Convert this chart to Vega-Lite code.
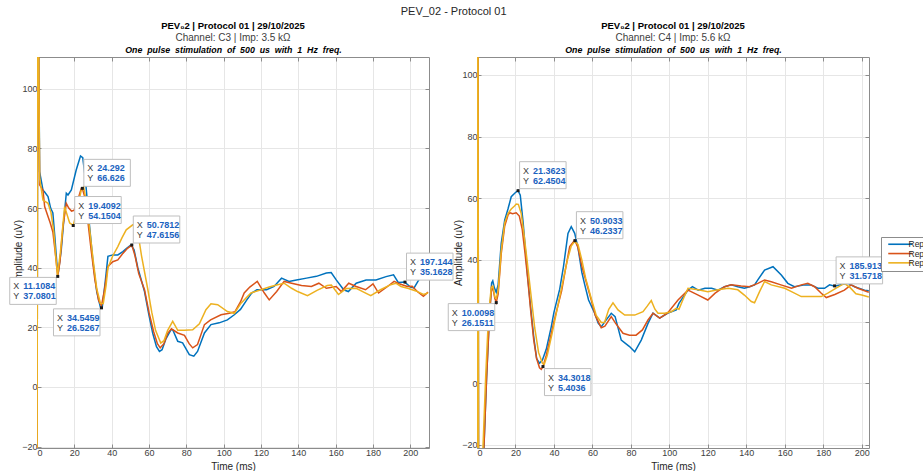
{
  "$schema": "https://vega.github.io/schema/vega-lite/v6.json",
  "padding": {"left": 7, "top": 6, "right": 0, "bottom": 0},
  "background": "white",
  "title": {"text": "PEV_02 - Protocol 01", "frame": "bounds", "anchor": "middle", "dx": -18, "fontSize": 11, "fontWeight": "normal", "color": "#262626", "offset": 4},
  "bounds": "flush",
  "spacing": 48,
  "resolve": {"legend": {"color": "independent"}},
  "datasets": {
    "tips": [
      {"ch": "C3", "t": 11.1084, "v": 37.0801},
      {"ch": "C3", "t": 24.292, "v": 66.626},
      {"ch": "C3", "t": 19.4092, "v": 54.1504},
      {"ch": "C3", "t": 34.5459, "v": 26.5267},
      {"ch": "C3", "t": 50.7812, "v": 47.6156},
      {"ch": "C3", "t": 197.144, "v": 35.1628},
      {"ch": "C4", "t": 10.0098, "v": 26.1511},
      {"ch": "C4", "t": 21.3623, "v": 62.4504},
      {"ch": "C4", "t": 50.9033, "v": 46.2337},
      {"ch": "C4", "t": 34.3018, "v": 5.4036},
      {"ch": "C4", "t": 185.913, "v": 31.5718}
    ],
    "c3": [
      {"r":"Rep 1","t":0,"v":-60},{"r":"Rep 1","t":0.4,"v":160},{"r":"Rep 1","t":1.4,"v":72.2},{"r":"Rep 1","t":3.2,"v":66},{"r":"Rep 1","t":4,"v":65.5},{"r":"Rep 1","t":5.9,"v":63.9},{"r":"Rep 1","t":7.3,"v":60},{"r":"Rep 1","t":8.5,"v":58.4},{"r":"Rep 1","t":9.6,"v":50},{"r":"Rep 1","t":10.9,"v":39.3},{"r":"Rep 1","t":11.5,"v":38.8},{"r":"Rep 1","t":13,"v":46},{"r":"Rep 1","t":14.5,"v":57},{"r":"Rep 1","t":15.7,"v":65},{"r":"Rep 1","t":16.6,"v":64.4},{"r":"Rep 1","t":18.4,"v":66.1},{"r":"Rep 1","t":21,"v":72.8},{"r":"Rep 1","t":23.3,"v":77.5},{"r":"Rep 1","t":24.5,"v":76.9},{"r":"Rep 1","t":25.8,"v":70.5},{"r":"Rep 1","t":28,"v":55},{"r":"Rep 1","t":30,"v":42},{"r":"Rep 1","t":32,"v":32},{"r":"Rep 1","t":34,"v":26.6},{"r":"Rep 1","t":35,"v":27},{"r":"Rep 1","t":36.5,"v":35},{"r":"Rep 1","t":38,"v":43.8},{"r":"Rep 1","t":40.6,"v":44.3},{"r":"Rep 1","t":43.3,"v":44.3},{"r":"Rep 1","t":46,"v":45.4},{"r":"Rep 1","t":48,"v":46.5},{"r":"Rep 1","t":50.4,"v":47.7},{"r":"Rep 1","t":52,"v":46},{"r":"Rep 1","t":54,"v":40},{"r":"Rep 1","t":57.6,"v":32},{"r":"Rep 1","t":60,"v":24},{"r":"Rep 1","t":62,"v":18},{"r":"Rep 1","t":64,"v":13.5},{"r":"Rep 1","t":65.6,"v":11.9},{"r":"Rep 1","t":67,"v":12.5},{"r":"Rep 1","t":69,"v":16},{"r":"Rep 1","t":71.8,"v":19.2},{"r":"Rep 1","t":72.7,"v":19.2},{"r":"Rep 1","t":75.4,"v":15.3},{"r":"Rep 1","t":78,"v":14.8},{"r":"Rep 1","t":81.6,"v":10.8},{"r":"Rep 1","t":84,"v":10.3},{"r":"Rep 1","t":86,"v":11.9},{"r":"Rep 1","t":89.7,"v":18.1},{"r":"Rep 1","t":93.2,"v":20.9},{"r":"Rep 1","t":97.6,"v":21.5},{"r":"Rep 1","t":102,"v":22.5},{"r":"Rep 1","t":105.7,"v":24.2},{"r":"Rep 1","t":109,"v":26},{"r":"Rep 1","t":112.4,"v":29.2},{"r":"Rep 1","t":115,"v":31.5},{"r":"Rep 1","t":117.8,"v":32.6},{"r":"Rep 1","t":123,"v":32.6},{"r":"Rep 1","t":127,"v":33.7},{"r":"Rep 1","t":131,"v":36.5},{"r":"Rep 1","t":135,"v":35.4},{"r":"Rep 1","t":139,"v":35.9},{"r":"Rep 1","t":144.4,"v":36.5},{"r":"Rep 1","t":149.7,"v":37.1},{"r":"Rep 1","t":155,"v":38.2},{"r":"Rep 1","t":157.6,"v":38.4},{"r":"Rep 1","t":160.3,"v":35.9},{"r":"Rep 1","t":164.3,"v":32.6},{"r":"Rep 1","t":166.8,"v":32},{"r":"Rep 1","t":171,"v":34.8},{"r":"Rep 1","t":176.3,"v":35.9},{"r":"Rep 1","t":181.6,"v":35.9},{"r":"Rep 1","t":187,"v":37},{"r":"Rep 1","t":191,"v":37.6},{"r":"Rep 1","t":193.6,"v":35},{"r":"Rep 1","t":197,"v":35.2},{"r":"Rep 1","t":200,"v":33.5},{"r":"Rep 1","t":202,"v":33.2},{"r":"Rep 1","t":204.6,"v":36},{"r":"Rep 1","t":207,"v":39.5},{"r":"Rep 1","t":209.6,"v":41},
      {"r":"Rep 2","t":0,"v":-60},{"r":"Rep 2","t":0.4,"v":160},{"r":"Rep 2","t":1.4,"v":67.8},{"r":"Rep 2","t":3.2,"v":66},{"r":"Rep 2","t":4.1,"v":60.5},{"r":"Rep 2","t":5.9,"v":57.2},{"r":"Rep 2","t":7.1,"v":55},{"r":"Rep 2","t":8.5,"v":52},{"r":"Rep 2","t":9.8,"v":45},{"r":"Rep 2","t":11.1,"v":37.1},{"r":"Rep 2","t":12.3,"v":42},{"r":"Rep 2","t":13.9,"v":53.8},{"r":"Rep 2","t":15.7,"v":61.6},{"r":"Rep 2","t":17,"v":60},{"r":"Rep 2","t":18.5,"v":59},{"r":"Rep 2","t":19.8,"v":59.2},{"r":"Rep 2","t":21.5,"v":62},{"r":"Rep 2","t":23.7,"v":66.6},{"r":"Rep 2","t":24.3,"v":66.6},{"r":"Rep 2","t":25.5,"v":64},{"r":"Rep 2","t":27,"v":57},{"r":"Rep 2","t":29,"v":46},{"r":"Rep 2","t":31,"v":36},{"r":"Rep 2","t":33,"v":29},{"r":"Rep 2","t":34.5,"v":27.2},{"r":"Rep 2","t":36,"v":32},{"r":"Rep 2","t":38,"v":40.4},{"r":"Rep 2","t":40.6,"v":42},{"r":"Rep 2","t":43.3,"v":42.6},{"r":"Rep 2","t":46,"v":44.8},{"r":"Rep 2","t":48.5,"v":46.5},{"r":"Rep 2","t":50.8,"v":47.6},{"r":"Rep 2","t":52.5,"v":44},{"r":"Rep 2","t":54.5,"v":38},{"r":"Rep 2","t":57.6,"v":32.6},{"r":"Rep 2","t":60,"v":25},{"r":"Rep 2","t":62.5,"v":18.5},{"r":"Rep 2","t":64.5,"v":14.5},{"r":"Rep 2","t":66,"v":13.1},{"r":"Rep 2","t":68,"v":14.5},{"r":"Rep 2","t":70,"v":18},{"r":"Rep 2","t":72,"v":19.5},{"r":"Rep 2","t":75.4,"v":18.1},{"r":"Rep 2","t":79,"v":17.3},{"r":"Rep 2","t":81.5,"v":14.5},{"r":"Rep 2","t":83.4,"v":13.1},{"r":"Rep 2","t":86,"v":14.2},{"r":"Rep 2","t":89.7,"v":20.9},{"r":"Rep 2","t":93,"v":22.5},{"r":"Rep 2","t":98.6,"v":24.2},{"r":"Rep 2","t":103,"v":24.7},{"r":"Rep 2","t":106,"v":25.2},{"r":"Rep 2","t":109,"v":28.5},{"r":"Rep 2","t":111,"v":31.5},{"r":"Rep 2","t":114,"v":33.5},{"r":"Rep 2","t":118,"v":35.4},{"r":"Rep 2","t":121.8,"v":31.5},{"r":"Rep 2","t":124.4,"v":29.2},{"r":"Rep 2","t":128.4,"v":32},{"r":"Rep 2","t":132.4,"v":35.4},{"r":"Rep 2","t":136.4,"v":34.8},{"r":"Rep 2","t":141.7,"v":34},{"r":"Rep 2","t":147,"v":33.7},{"r":"Rep 2","t":151,"v":34.8},{"r":"Rep 2","t":155,"v":33.1},{"r":"Rep 2","t":160.3,"v":33.7},{"r":"Rep 2","t":163,"v":32},{"r":"Rep 2","t":167,"v":34.8},{"r":"Rep 2","t":171,"v":33.7},{"r":"Rep 2","t":176,"v":32.6},{"r":"Rep 2","t":180,"v":34.6},{"r":"Rep 2","t":183,"v":31.5},{"r":"Rep 2","t":187.8,"v":33.7},{"r":"Rep 2","t":191.3,"v":35.4},{"r":"Rep 2","t":194,"v":34.6},{"r":"Rep 2","t":198.4,"v":33.7},{"r":"Rep 2","t":201,"v":33.8},{"r":"Rep 2","t":203.7,"v":32},{"r":"Rep 2","t":207,"v":30.4},{"r":"Rep 2","t":209.5,"v":31.8},
      {"r":"Rep 3","t":0,"v":-60},{"r":"Rep 3","t":0.4,"v":160},{"r":"Rep 3","t":1.4,"v":70},{"r":"Rep 3","t":3.2,"v":62.7},{"r":"Rep 3","t":5.9,"v":61.6},{"r":"Rep 3","t":7.5,"v":58.5},{"r":"Rep 3","t":9,"v":52},{"r":"Rep 3","t":10,"v":44},{"r":"Rep 3","t":11,"v":37.5},{"r":"Rep 3","t":12.5,"v":45},{"r":"Rep 3","t":14.8,"v":60.5},{"r":"Rep 3","t":16,"v":58},{"r":"Rep 3","t":17.5,"v":55},{"r":"Rep 3","t":19.4,"v":54.2},{"r":"Rep 3","t":21,"v":58},{"r":"Rep 3","t":23.7,"v":66},{"r":"Rep 3","t":25,"v":67},{"r":"Rep 3","t":26.5,"v":62},{"r":"Rep 3","t":28,"v":54},{"r":"Rep 3","t":30,"v":43},{"r":"Rep 3","t":32,"v":33},{"r":"Rep 3","t":34,"v":28},{"r":"Rep 3","t":35.5,"v":28},{"r":"Rep 3","t":37,"v":34},{"r":"Rep 3","t":38,"v":39.9},{"r":"Rep 3","t":40.6,"v":44},{"r":"Rep 3","t":43.3,"v":47.1},{"r":"Rep 3","t":45.5,"v":50},{"r":"Rep 3","t":47.8,"v":52.7},{"r":"Rep 3","t":51.3,"v":54.4},{"r":"Rep 3","t":52.5,"v":54.5},{"r":"Rep 3","t":54,"v":52},{"r":"Rep 3","t":56,"v":44},{"r":"Rep 3","t":59.4,"v":32.6},{"r":"Rep 3","t":61.5,"v":25},{"r":"Rep 3","t":63.5,"v":19},{"r":"Rep 3","t":66.3,"v":14.7},{"r":"Rep 3","t":68,"v":15.5},{"r":"Rep 3","t":70,"v":19},{"r":"Rep 3","t":72.7,"v":22},{"r":"Rep 3","t":75.4,"v":19},{"r":"Rep 3","t":79,"v":19},{"r":"Rep 3","t":83.4,"v":19.2},{"r":"Rep 3","t":87,"v":21.2},{"r":"Rep 3","t":90.5,"v":25.9},{"r":"Rep 3","t":93.2,"v":27.9},{"r":"Rep 3","t":96.8,"v":27.6},{"r":"Rep 3","t":102,"v":25.3},{"r":"Rep 3","t":105.7,"v":24.7},{"r":"Rep 3","t":109.3,"v":28.1},{"r":"Rep 3","t":114.6,"v":31.5},{"r":"Rep 3","t":120,"v":32.6},{"r":"Rep 3","t":124.4,"v":33.5},{"r":"Rep 3","t":128.9,"v":34.3},{"r":"Rep 3","t":132.4,"v":34.8},{"r":"Rep 3","t":136.4,"v":33.1},{"r":"Rep 3","t":139.6,"v":32},{"r":"Rep 3","t":144.9,"v":30.6},{"r":"Rep 3","t":150,"v":32.4},{"r":"Rep 3","t":155.5,"v":34},{"r":"Rep 3","t":157.7,"v":34.2},{"r":"Rep 3","t":161.5,"v":31},{"r":"Rep 3","t":165.6,"v":33},{"r":"Rep 3","t":171,"v":33.1},{"r":"Rep 3","t":175,"v":31.8},{"r":"Rep 3","t":178.8,"v":30.6},{"r":"Rep 3","t":184,"v":32.6},{"r":"Rep 3","t":189.5,"v":34.3},{"r":"Rep 3","t":192.2,"v":34.8},{"r":"Rep 3","t":195,"v":33.7},{"r":"Rep 3","t":199,"v":33},{"r":"Rep 3","t":203,"v":32.2},{"r":"Rep 3","t":207,"v":31},{"r":"Rep 3","t":209.5,"v":31.5}
    ],
    "c4": [
      {"r":"Rep 1","t":0,"v":-100},{"r":"Rep 1","t":0.4,"v":200},{"r":"Rep 1","t":0.9,"v":-100},{"r":"Rep 1","t":2.2,"v":-45},{"r":"Rep 1","t":3.6,"v":-21},{"r":"Rep 1","t":5,"v":2},{"r":"Rep 1","t":6.5,"v":22},{"r":"Rep 1","t":7.6,"v":32.5},{"r":"Rep 1","t":8.2,"v":33.2},{"r":"Rep 1","t":9,"v":31},{"r":"Rep 1","t":10,"v":29.5},{"r":"Rep 1","t":11,"v":32},{"r":"Rep 1","t":12.6,"v":45.4},{"r":"Rep 1","t":14.4,"v":52.9},{"r":"Rep 1","t":16.1,"v":56.5},{"r":"Rep 1","t":17.8,"v":60.5},{"r":"Rep 1","t":19.6,"v":61.6},{"r":"Rep 1","t":21.3,"v":62.5},{"r":"Rep 1","t":22.5,"v":61},{"r":"Rep 1","t":24,"v":52},{"r":"Rep 1","t":25.6,"v":40},{"r":"Rep 1","t":26.5,"v":33.5},{"r":"Rep 1","t":28,"v":24},{"r":"Rep 1","t":29.5,"v":15},{"r":"Rep 1","t":31,"v":8},{"r":"Rep 1","t":32.5,"v":6.5},{"r":"Rep 1","t":34,"v":7.5},{"r":"Rep 1","t":36,"v":11},{"r":"Rep 1","t":38.6,"v":18.3},{"r":"Rep 1","t":40,"v":23},{"r":"Rep 1","t":42,"v":28},{"r":"Rep 1","t":43,"v":30.5},{"r":"Rep 1","t":45,"v":38},{"r":"Rep 1","t":47.3,"v":48.6},{"r":"Rep 1","t":49,"v":50.8},{"r":"Rep 1","t":50.8,"v":48.6},{"r":"Rep 1","t":52.5,"v":44},{"r":"Rep 1","t":54.5,"v":36},{"r":"Rep 1","t":56,"v":32},{"r":"Rep 1","t":58,"v":27},{"r":"Rep 1","t":61.2,"v":22.7},{"r":"Rep 1","t":63,"v":19.5},{"r":"Rep 1","t":64.6,"v":18.3},{"r":"Rep 1","t":66.5,"v":20},{"r":"Rep 1","t":69.8,"v":22.7},{"r":"Rep 1","t":71.8,"v":21.6},{"r":"Rep 1","t":75,"v":14},{"r":"Rep 1","t":79.3,"v":11.9},{"r":"Rep 1","t":82,"v":10.2},{"r":"Rep 1","t":85.4,"v":14},{"r":"Rep 1","t":88.9,"v":19.4},{"r":"Rep 1","t":91.5,"v":22.7},{"r":"Rep 1","t":95,"v":21.1},{"r":"Rep 1","t":99,"v":22.7},{"r":"Rep 1","t":103.6,"v":23.8},{"r":"Rep 1","t":105,"v":25.9},{"r":"Rep 1","t":109.7,"v":30.2},{"r":"Rep 1","t":112,"v":31.3},{"r":"Rep 1","t":115,"v":30.2},{"r":"Rep 1","t":118.5,"v":30.8},{"r":"Rep 1","t":122,"v":30.8},{"r":"Rep 1","t":125.3,"v":30.2},{"r":"Rep 1","t":128.7,"v":31.3},{"r":"Rep 1","t":132.2,"v":31.9},{"r":"Rep 1","t":135.6,"v":31.3},{"r":"Rep 1","t":139,"v":30.8},{"r":"Rep 1","t":141.7,"v":31.3},{"r":"Rep 1","t":144.3,"v":31.9},{"r":"Rep 1","t":146,"v":33.5},{"r":"Rep 1","t":149.5,"v":36.7},{"r":"Rep 1","t":153.9,"v":37.8},{"r":"Rep 1","t":158.2,"v":35.1},{"r":"Rep 1","t":161.6,"v":32.4},{"r":"Rep 1","t":165,"v":31.3},{"r":"Rep 1","t":170.3,"v":31.9},{"r":"Rep 1","t":173.7,"v":31.9},{"r":"Rep 1","t":177.2,"v":30.8},{"r":"Rep 1","t":180.7,"v":30.8},{"r":"Rep 1","t":183.3,"v":31.9},{"r":"Rep 1","t":186,"v":31.5},{"r":"Rep 1","t":190.6,"v":32.2},{"r":"Rep 1","t":193,"v":32.4},{"r":"Rep 1","t":196.3,"v":31.3},{"r":"Rep 1","t":201.5,"v":30.2},{"r":"Rep 1","t":203.7,"v":30},
      {"r":"Rep 2","t":0,"v":-100},{"r":"Rep 2","t":0.4,"v":200},{"r":"Rep 2","t":0.9,"v":-100},{"r":"Rep 2","t":2.2,"v":-45},{"r":"Rep 2","t":3.6,"v":-21},{"r":"Rep 2","t":5,"v":2},{"r":"Rep 2","t":6.5,"v":22},{"r":"Rep 2","t":7.6,"v":31},{"r":"Rep 2","t":8.5,"v":30},{"r":"Rep 2","t":9.3,"v":27.5},{"r":"Rep 2","t":10,"v":26.2},{"r":"Rep 2","t":11,"v":29},{"r":"Rep 2","t":12.6,"v":42},{"r":"Rep 2","t":14.4,"v":51},{"r":"Rep 2","t":16.1,"v":54.5},{"r":"Rep 2","t":17,"v":55.3},{"r":"Rep 2","t":18.5,"v":55},{"r":"Rep 2","t":20.4,"v":55.3},{"r":"Rep 2","t":22,"v":54.2},{"r":"Rep 2","t":23.5,"v":50},{"r":"Rep 2","t":25,"v":42},{"r":"Rep 2","t":26.5,"v":33},{"r":"Rep 2","t":28,"v":23},{"r":"Rep 2","t":29.5,"v":14},{"r":"Rep 2","t":31,"v":8},{"r":"Rep 2","t":32.5,"v":5},{"r":"Rep 2","t":33.4,"v":4.5},{"r":"Rep 2","t":34.3,"v":5.4},{"r":"Rep 2","t":36,"v":9},{"r":"Rep 2","t":38.6,"v":16},{"r":"Rep 2","t":40,"v":20},{"r":"Rep 2","t":42,"v":25},{"r":"Rep 2","t":44,"v":30},{"r":"Rep 2","t":46,"v":37},{"r":"Rep 2","t":48.2,"v":44.3},{"r":"Rep 2","t":50.8,"v":46.4},{"r":"Rep 2","t":52.5,"v":44},{"r":"Rep 2","t":54.5,"v":38},{"r":"Rep 2","t":56,"v":34.6},{"r":"Rep 2","t":59.4,"v":27},{"r":"Rep 2","t":61.5,"v":22},{"r":"Rep 2","t":64.6,"v":18},{"r":"Rep 2","t":66.5,"v":18.5},{"r":"Rep 2","t":69.8,"v":21.6},{"r":"Rep 2","t":72,"v":19.5},{"r":"Rep 2","t":75.9,"v":16.2},{"r":"Rep 2","t":79.3,"v":15.6},{"r":"Rep 2","t":82.7,"v":15.6},{"r":"Rep 2","t":86,"v":17.3},{"r":"Rep 2","t":88.9,"v":20.5},{"r":"Rep 2","t":91.5,"v":22.7},{"r":"Rep 2","t":95,"v":21.1},{"r":"Rep 2","t":99,"v":22.7},{"r":"Rep 2","t":104.5,"v":27},{"r":"Rep 2","t":109.7,"v":30.2},{"r":"Rep 2","t":115,"v":28.6},{"r":"Rep 2","t":120,"v":27},{"r":"Rep 2","t":123.8,"v":29.2},{"r":"Rep 2","t":128.7,"v":31.3},{"r":"Rep 2","t":132.2,"v":31.9},{"r":"Rep 2","t":137.3,"v":31.5},{"r":"Rep 2","t":141.7,"v":31.3},{"r":"Rep 2","t":146,"v":32.4},{"r":"Rep 2","t":149.5,"v":33.5},{"r":"Rep 2","t":153,"v":32.9},{"r":"Rep 2","t":158,"v":31.9},{"r":"Rep 2","t":163.5,"v":30.8},{"r":"Rep 2","t":168.6,"v":31.9},{"r":"Rep 2","t":172,"v":32.4},{"r":"Rep 2","t":175.5,"v":31.3},{"r":"Rep 2","t":179,"v":29.2},{"r":"Rep 2","t":181.6,"v":27.8},{"r":"Rep 2","t":186,"v":28.8},{"r":"Rep 2","t":191,"v":30.2},{"r":"Rep 2","t":194.5,"v":31.9},{"r":"Rep 2","t":198,"v":30.8},{"r":"Rep 2","t":201.5,"v":30},{"r":"Rep 2","t":203.7,"v":29.5},
      {"r":"Rep 3","t":0,"v":-100},{"r":"Rep 3","t":0.4,"v":200},{"r":"Rep 3","t":0.9,"v":-100},{"r":"Rep 3","t":2,"v":-45},{"r":"Rep 3","t":3.1,"v":-21},{"r":"Rep 3","t":4.5,"v":2},{"r":"Rep 3","t":6,"v":22},{"r":"Rep 3","t":7.4,"v":31},{"r":"Rep 3","t":8.3,"v":31.5},{"r":"Rep 3","t":9.3,"v":28},{"r":"Rep 3","t":10,"v":27.5},{"r":"Rep 3","t":11,"v":30},{"r":"Rep 3","t":12.6,"v":43},{"r":"Rep 3","t":14.4,"v":52},{"r":"Rep 3","t":16.1,"v":55},{"r":"Rep 3","t":17.8,"v":56.5},{"r":"Rep 3","t":19.5,"v":57.5},{"r":"Rep 3","t":20.4,"v":58.1},{"r":"Rep 3","t":21.5,"v":58},{"r":"Rep 3","t":23,"v":55},{"r":"Rep 3","t":24.5,"v":48},{"r":"Rep 3","t":26,"v":40},{"r":"Rep 3","t":28,"v":29},{"r":"Rep 3","t":30,"v":18},{"r":"Rep 3","t":32,"v":10},{"r":"Rep 3","t":34,"v":6.5},{"r":"Rep 3","t":35,"v":6.2},{"r":"Rep 3","t":36.5,"v":9},{"r":"Rep 3","t":39,"v":16},{"r":"Rep 3","t":41,"v":22},{"r":"Rep 3","t":43,"v":28},{"r":"Rep 3","t":45,"v":34},{"r":"Rep 3","t":47,"v":40},{"r":"Rep 3","t":49,"v":44.5},{"r":"Rep 3","t":50.8,"v":46},{"r":"Rep 3","t":52.5,"v":45},{"r":"Rep 3","t":54.5,"v":40},{"r":"Rep 3","t":56.5,"v":34},{"r":"Rep 3","t":59.4,"v":27.5},{"r":"Rep 3","t":62,"v":22},{"r":"Rep 3","t":64.6,"v":19.7},{"r":"Rep 3","t":66.3,"v":19.7},{"r":"Rep 3","t":68.5,"v":24},{"r":"Rep 3","t":70.7,"v":26.1},{"r":"Rep 3","t":73.3,"v":23.8},{"r":"Rep 3","t":76.8,"v":22.1},{"r":"Rep 3","t":82,"v":22.1},{"r":"Rep 3","t":86.3,"v":23.2},{"r":"Rep 3","t":88.5,"v":25},{"r":"Rep 3","t":90.6,"v":26.8},{"r":"Rep 3","t":92.5,"v":24},{"r":"Rep 3","t":94.1,"v":22.7},{"r":"Rep 3","t":97.5,"v":22.7},{"r":"Rep 3","t":101,"v":23.2},{"r":"Rep 3","t":103.6,"v":24.3},{"r":"Rep 3","t":105,"v":24},{"r":"Rep 3","t":107,"v":27},{"r":"Rep 3","t":109.7,"v":30.8},{"r":"Rep 3","t":115,"v":30.3},{"r":"Rep 3","t":120,"v":29.7},{"r":"Rep 3","t":125.3,"v":30.3},{"r":"Rep 3","t":130.6,"v":30.8},{"r":"Rep 3","t":135.6,"v":30.3},{"r":"Rep 3","t":139,"v":28.6},{"r":"Rep 3","t":142.6,"v":26.5},{"r":"Rep 3","t":144.3,"v":26.1},{"r":"Rep 3","t":146.9,"v":29.7},{"r":"Rep 3","t":149.5,"v":33},{"r":"Rep 3","t":153,"v":31.9},{"r":"Rep 3","t":160,"v":30.8},{"r":"Rep 3","t":163.5,"v":29.7},{"r":"Rep 3","t":168.6,"v":28.1},{"r":"Rep 3","t":173.7,"v":28.1},{"r":"Rep 3","t":179,"v":28.1},{"r":"Rep 3","t":182.4,"v":29.2},{"r":"Rep 3","t":186.5,"v":30.8},{"r":"Rep 3","t":191,"v":32.4},{"r":"Rep 3","t":194,"v":31},{"r":"Rep 3","t":197,"v":29},{"r":"Rep 3","t":200,"v":28.6},{"r":"Rep 3","t":203.7,"v":28}
    ]
  },
  "hconcat": [
    {
      "width": 392, "height": 391,
      "title": {"text": "PEV₀2 | Protocol 01 | 29/10/2025", "subtitle": "Channel: C3 | Imp: 3.5 kΩ"},
      "resolve": {"axis": {"x": "independent", "y": "independent"}},
      "layer": [
        {
          "data": {"name": "c3"},
          "mark": {"type": "line", "clip": true, "strokeWidth": 1.5},
          "encoding": {
            "x": {"field": "t", "type": "quantitative", "scale": {"domain": [0, 210], "nice": false, "zero": false}, "axis": {"title": "Time (ms)", "values": [0,20,40,60,80,100,120,140,160,180,200]}},
            "y": {"field": "v", "type": "quantitative", "scale": {"domain": [-20.5, 110.7], "nice": false, "zero": false}, "axis": {"title": "Amplitude (uV)", "values": [-20,0,20,40,60,80,100]}},
            "color": {"field": "r", "type": "nominal", "scale": {"domain": ["Rep 1","Rep 2","Rep 3"], "range": ["#0072BD","#D95319","#EDB120"]}, "legend": null}
          }
        },
        {
          "data": {"name": "tips"},
          "mark": {"type": "point", "opacity": 0},
          "encoding": {
            "x": {"field": "t", "type": "quantitative", "scale": {"domain": [0, 210], "nice": false, "zero": false}, "axis": {"orient": "top", "labels": false, "grid": false, "title": "One\u00a0 pulse\u00a0 stimulation\u00a0 of\u00a0 500\u00a0 us\u00a0 with\u00a0 1\u00a0 Hz\u00a0 freq.", "titleFontStyle": "italic", "titleFontWeight": "bold", "titleFontSize": 8.8, "titlePadding": 2, "titleColor": "#000000", "values": [0,20,40,60,80,100,120,140,160,180,200]}},
            "y": {"field": "v", "type": "quantitative", "scale": {"domain": [-20.5, 110.7], "nice": false, "zero": false}, "axis": {"orient": "right", "labels": false, "grid": false, "title": null, "values": [-20,0,20,40,60,80,100]}}
          }
        },
        {
          "data": {"name": "tips"},
          "transform": [{"filter": "datum.ch == 'C3'"}],
          "encoding": {
            "x": {"field": "t", "type": "quantitative", "scale": {"domain": [0, 210], "nice": false, "zero": false}, "axis": null},
            "y": {"field": "v", "type": "quantitative", "scale": {"domain": [-20.5, 110.7], "nice": false, "zero": false}, "axis": null}
          },
          "layer": [
            {
              "transform": [{"filter": "indexof([11.1084, 34.5459, 10.0098, 34.3018], datum.t) < 0"}],
              "layer": [
                {"mark": {"type": "point", "shape": "M1.5,-29H48V-2H1.5Z", "size": 4, "filled": true, "fill": "white", "stroke": "#bfbfbf", "strokeWidth": 1, "opacity": 1}},
                {"mark": {"type": "text", "text": "X", "dx": 8, "dy": -20, "align": "center", "baseline": "middle", "fontSize": 9, "color": "#404040"}},
                {"mark": {"type": "text", "dx": 15, "dy": -20, "align": "left", "baseline": "middle", "fontSize": 9, "fontWeight": "bold", "color": "#1a62c0"}, "encoding": {"text": {"field": "t", "type": "nominal"}}},
                {"mark": {"type": "text", "text": "Y", "dx": 8, "dy": -10, "align": "center", "baseline": "middle", "fontSize": 9, "color": "#404040"}},
                {"mark": {"type": "text", "dx": 15, "dy": -10, "align": "left", "baseline": "middle", "fontSize": 9, "fontWeight": "bold", "color": "#1a62c0"}, "encoding": {"text": {"field": "v", "type": "nominal"}}}
              ]
            },
            {
              "transform": [{"filter": "indexof([11.1084, 34.5459, 10.0098], datum.t) >= 0"}],
              "layer": [
                {"mark": {"type": "point", "shape": "M-48,1H-1.5V28H-48Z", "size": 4, "filled": true, "fill": "white", "stroke": "#bfbfbf", "strokeWidth": 1, "opacity": 1}},
                {"mark": {"type": "text", "text": "X", "dx": -41.5, "dy": 10, "align": "center", "baseline": "middle", "fontSize": 9, "color": "#404040"}},
                {"mark": {"type": "text", "dx": -34.5, "dy": 10, "align": "left", "baseline": "middle", "fontSize": 9, "fontWeight": "bold", "color": "#1a62c0"}, "encoding": {"text": {"field": "t", "type": "nominal"}}},
                {"mark": {"type": "text", "text": "Y", "dx": -41.5, "dy": 20, "align": "center", "baseline": "middle", "fontSize": 9, "color": "#404040"}},
                {"mark": {"type": "text", "dx": -34.5, "dy": 20, "align": "left", "baseline": "middle", "fontSize": 9, "fontWeight": "bold", "color": "#1a62c0"}, "encoding": {"text": {"field": "v", "type": "nominal"}}}
              ]
            },
            {"mark": {"type": "point", "shape": "square", "size": 9, "filled": true, "color": "#1a1a1a", "opacity": 1}}
          ]
        }
      ]
    },
    {
      "width": 392, "height": 391,
      "title": {"text": "PEV₀2 | Protocol 01 | 29/10/2025", "subtitle": "Channel: C4 | Imp: 5.6 kΩ"},
      "resolve": {"axis": {"x": "independent", "y": "independent"}},
      "layer": [
        {
          "data": {"name": "c4"},
          "mark": {"type": "line", "clip": true, "strokeWidth": 1.5},
          "encoding": {
            "x": {"field": "t", "type": "quantitative", "scale": {"domain": [0, 203.8], "nice": false, "zero": false}, "axis": {"title": "Time (ms)", "values": [0,20,40,60,80,100,120,140,160,180,200]}},
            "y": {"field": "v", "type": "quantitative", "scale": {"domain": [-21, 105.8], "nice": false, "zero": false}, "axis": {"title": "Amplitude (uV)", "values": [-20,0,20,40,60,80,100]}},
            "color": {"field": "r", "type": "nominal", "scale": {"domain": ["Rep 1","Rep 2","Rep 3"], "range": ["#0072BD","#D95319","#EDB120"]}, "legend": {"title": null, "orient": "none", "legendX": 404, "legendY": 180, "symbolType": "M0,0H24", "symbolSize": 4, "symbolStrokeWidth": 1.6, "labelFontSize": 8.5, "labelColor": "#262626", "rowPadding": 0.3, "padding": 3, "strokeColor": "#8c8c8c", "fillColor": "white", "labelOffset": 16}}
          }
        },
        {
          "data": {"name": "tips"},
          "mark": {"type": "point", "opacity": 0},
          "encoding": {
            "x": {"field": "t", "type": "quantitative", "scale": {"domain": [0, 203.8], "nice": false, "zero": false}, "axis": {"orient": "top", "labels": false, "grid": false, "title": "One\u00a0 pulse\u00a0 stimulation\u00a0 of\u00a0 500\u00a0 us\u00a0 with\u00a0 1\u00a0 Hz\u00a0 freq.", "titleFontStyle": "italic", "titleFontWeight": "bold", "titleFontSize": 8.8, "titlePadding": 2, "titleColor": "#000000", "values": [0,20,40,60,80,100,120,140,160,180,200]}},
            "y": {"field": "v", "type": "quantitative", "scale": {"domain": [-21, 105.8], "nice": false, "zero": false}, "axis": {"orient": "right", "labels": false, "grid": false, "title": null, "values": [-20,0,20,40,60,80,100]}}
          }
        },
        {
          "data": {"name": "tips"},
          "transform": [{"filter": "datum.ch == 'C4'"}],
          "encoding": {
            "x": {"field": "t", "type": "quantitative", "scale": {"domain": [0, 203.8], "nice": false, "zero": false}, "axis": null},
            "y": {"field": "v", "type": "quantitative", "scale": {"domain": [-21, 105.8], "nice": false, "zero": false}, "axis": null}
          },
          "layer": [
            {
              "transform": [{"filter": "indexof([11.1084, 34.5459, 10.0098, 34.3018], datum.t) < 0"}],
              "layer": [
                {"mark": {"type": "point", "shape": "M1.5,-29H48V-2H1.5Z", "size": 4, "filled": true, "fill": "white", "stroke": "#bfbfbf", "strokeWidth": 1, "opacity": 1}},
                {"mark": {"type": "text", "text": "X", "dx": 8, "dy": -20, "align": "center", "baseline": "middle", "fontSize": 9, "color": "#404040"}},
                {"mark": {"type": "text", "dx": 15, "dy": -20, "align": "left", "baseline": "middle", "fontSize": 9, "fontWeight": "bold", "color": "#1a62c0"}, "encoding": {"text": {"field": "t", "type": "nominal"}}},
                {"mark": {"type": "text", "text": "Y", "dx": 8, "dy": -10, "align": "center", "baseline": "middle", "fontSize": 9, "color": "#404040"}},
                {"mark": {"type": "text", "dx": 15, "dy": -10, "align": "left", "baseline": "middle", "fontSize": 9, "fontWeight": "bold", "color": "#1a62c0"}, "encoding": {"text": {"field": "v", "type": "nominal"}}}
              ]
            },
            {
              "transform": [{"filter": "indexof([11.1084, 34.5459, 10.0098], datum.t) >= 0"}],
              "layer": [
                {"mark": {"type": "point", "shape": "M-48,1H-1.5V28H-48Z", "size": 4, "filled": true, "fill": "white", "stroke": "#bfbfbf", "strokeWidth": 1, "opacity": 1}},
                {"mark": {"type": "text", "text": "X", "dx": -41.5, "dy": 10, "align": "center", "baseline": "middle", "fontSize": 9, "color": "#404040"}},
                {"mark": {"type": "text", "dx": -34.5, "dy": 10, "align": "left", "baseline": "middle", "fontSize": 9, "fontWeight": "bold", "color": "#1a62c0"}, "encoding": {"text": {"field": "t", "type": "nominal"}}},
                {"mark": {"type": "text", "text": "Y", "dx": -41.5, "dy": 20, "align": "center", "baseline": "middle", "fontSize": 9, "color": "#404040"}},
                {"mark": {"type": "text", "dx": -34.5, "dy": 20, "align": "left", "baseline": "middle", "fontSize": 9, "fontWeight": "bold", "color": "#1a62c0"}, "encoding": {"text": {"field": "v", "type": "nominal"}}}
              ]
            },
            {
              "transform": [{"filter": "datum.t == 34.3018"}],
              "layer": [
                {"mark": {"type": "point", "shape": "M1.5,2H48V29H1.5Z", "size": 4, "filled": true, "fill": "white", "stroke": "#bfbfbf", "strokeWidth": 1, "opacity": 1}},
                {"mark": {"type": "text", "text": "X", "dx": 8, "dy": 11, "align": "center", "baseline": "middle", "fontSize": 9, "color": "#404040"}},
                {"mark": {"type": "text", "dx": 15, "dy": 11, "align": "left", "baseline": "middle", "fontSize": 9, "fontWeight": "bold", "color": "#1a62c0"}, "encoding": {"text": {"field": "t", "type": "nominal"}}},
                {"mark": {"type": "text", "text": "Y", "dx": 8, "dy": 21, "align": "center", "baseline": "middle", "fontSize": 9, "color": "#404040"}},
                {"mark": {"type": "text", "dx": 15, "dy": 21, "align": "left", "baseline": "middle", "fontSize": 9, "fontWeight": "bold", "color": "#1a62c0"}, "encoding": {"text": {"field": "v", "type": "nominal"}}}
              ]
            },
            {"mark": {"type": "point", "shape": "square", "size": 9, "filled": true, "color": "#1a1a1a", "opacity": 1}}
          ]
        }
      ]
    }
  ],
  "config": {
    "font": "Liberation Sans",
    "view": {"stroke": null},
    "title": {"fontSize": 9.5, "fontWeight": "bold", "color": "#000000", "subtitleFontSize": 10, "subtitleColor": "#404040", "subtitlePadding": 2.5, "offset": 2.5, "anchor": "middle", "frame": "group"},
    "axis": {
      "labelFont": "Liberation Sans", "labelFontSize": 9, "labelColor": "#404040",
      "titleFont": "Liberation Sans", "titleFontSize": 10, "titleFontWeight": "normal", "titleColor": "#262626",
      "domainColor": "#8c8c8c", "tickColor": "#8c8c8c", "tickSize": -4,
      "gridColor": "#e6e6e6", "titlePadding": 2
    },
    "axisX": {"labelPadding": 4, "titlePadding": 4},
    "axisY": {"labelPadding": 4, "titlePadding": -2},
    "legend": {"labelFont": "Liberation Sans"}
  }
}
